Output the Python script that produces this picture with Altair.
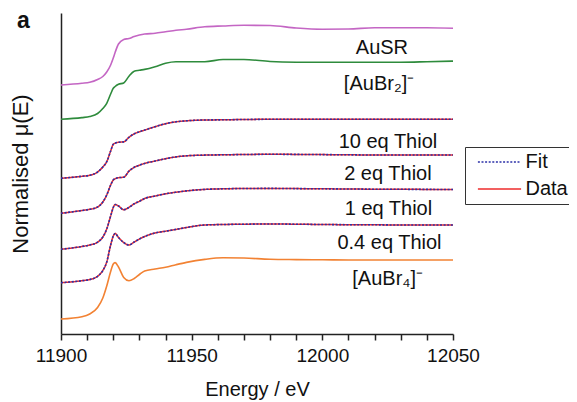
import altair as alt
import pandas as pd

energy = [11900, 11908, 11911, 11914, 11916, 11917.5, 11919, 11920, 11920.7, 11922,
          11924, 11926, 11928, 11930, 11932, 11936, 11940, 11944, 11948, 11955,
          11962, 11970, 11980, 11990, 12000, 12010, 12020, 12030, 12040, 12050]

# stacked (offset) normalised absorption, arbitrary offset units
ausr = [249, 250.7, 251.7, 254.5, 257.5, 262, 269, 276, 281.5, 290,
        294.5, 295.5, 297.5, 299, 300, 300.7, 302.2, 303.7, 304.8, 307.2,
        308, 308.7, 308.5, 306, 304.8, 305, 306.3, 306.3, 306.3, 305.8]
aubr2 = [214.7, 216.4, 217.5, 220.5, 225.5, 230.7, 240, 245.7, 247.5, 249.7,
         251, 257.8, 262.8, 263.8, 264.6, 267.3, 270.8, 272.3, 272.3, 272.3,
         274.5, 274.5, 272.5, 271.8, 271.7, 271.7, 271.7, 271.8, 272.3, 272.9]
eq10 = [155.7, 157.7, 158.7, 162, 167, 172.3, 183, 189.7, 190.8, 191.7,
        192.1, 196.7, 200.2, 202.2, 203.9, 207.3, 210.3, 212.2, 213.2, 214,
        214.2, 214.5, 214.7, 214.7, 214.7, 214.8, 214.8, 214.8, 214.7, 214.7]
eq2 = [120.7, 123.5, 124.7, 127, 132, 139, 149, 154, 155.2, 156.3,
       156.8, 162.8, 166.7, 168.8, 170.6, 173, 175.3, 177.1, 178.2, 178.9,
       179.2, 179.5, 179.7, 179.6, 179.4, 179.2, 179, 179, 179, 179]
eq1 = [84.7, 87.5, 89, 91.8, 97, 105, 118, 126.5, 129.5, 128, 124.3, 126.6,
       130.2, 132.7, 135.5, 138, 140.2, 141.8, 143.1, 144.6,
       145.2, 145.5, 145.6, 145.4, 145.2, 145, 144.8, 144.7, 144.6, 144.5]
eq04 = [51.3, 53.3, 54.5, 57.7, 63.5, 72, 89, 98, 100.5, 96.5,
        91.5, 89, 92, 95, 97.5, 101, 102.8, 104.6, 106.5, 109,
        109.5, 109.8, 110, 109.8, 109.5, 109.3, 109.2, 109, 109, 109]
aubr4 = [15, 17.3, 20, 26.5, 36, 48, 62.5, 70, 71.4, 67,
         56.5, 53.3, 55.5, 59.5, 63, 65, 66.8, 69.3, 71.6, 74.6,
         76.2, 76, 74.7, 74.4, 74.2, 74, 74, 74, 74, 74]

ref_names = ["AuSR", "AuBr2", "AuBr4"]
ref_values = [ausr, aubr2, aubr4]
ref_colors = ["#C466C4", "#2E8B3C", "#F28233"]

thiol_names = ["10 eq", "2 eq", "1 eq", "0.4 eq"]
thiol_values = [eq10, eq2, eq1, eq04]

labels = ["AuSR", "[AuBr\u2082]\u207b", "10 eq Thiol", "2 eq Thiol",
          "1 eq Thiol", "0.4 eq Thiol", "[AuBr\u2084]\u207b"]
label_e = [12022.8, 12021.7, 12025.1, 12025.1, 12025.3, 12025.7, 12025]
label_y = [285.7, 250, 192.5, 160, 125, 91, 55]

FONT = "Liberation Sans"

rows = []
for n, vals in zip(ref_names, ref_values):
    for e, v in zip(energy, vals):
        rows.append({"E": e, "mu": v, "series": n})
ref_df = pd.DataFrame(rows)

rows = []
for kind in ["Data", "Fit"]:
    for n, vals in zip(thiol_names, thiol_values):
        for e, v in zip(energy, vals):
            rows.append({"E": e, "mu": v, "series": n, "kind": kind})
thiol_df = pd.DataFrame(rows)

lab_df = pd.DataFrame({"E": label_e, "mu": label_y, "text": labels})

xscale = alt.Scale(domain=[11900, 12050], nice=False, zero=False)
yscale = alt.Scale(domain=[0, 321], nice=False, zero=False)

xaxis = alt.Axis(values=list(range(11900, 12051, 10)), format="d",
                 labelExpr="datum.value % 50 == 0 ? datum.label : ''",
                 title="Energy / eV", grid=False, tickSize=6, tickWidth=1.5,
                 tickColor="#222", domainColor="#222", domainWidth=1.5,
                 labelFontSize=19, labelFont=FONT, labelColor="#111",
                 labelPadding=6, labelFlush=False, labelOverlap=False,
                 titleFontSize=20, titleFont=FONT, titleFontWeight="normal",
                 titleColor="#111", titlePadding=14)
yaxis = alt.Axis(labels=False, ticks=False, grid=False, title="Normalised \u03bc(E)",
                 domainColor="#222", domainWidth=1.5, titleFontSize=22,
                 titleFont=FONT, titleFontWeight="normal", titleColor="#111",
                 titlePadding=29)

X = alt.X("E:Q", scale=xscale, axis=xaxis)
Y = alt.Y("mu:Q", scale=yscale, axis=yaxis)

layers = []
for n, c in zip(ref_names, ref_colors):
    layers.append(
        alt.Chart(ref_df).transform_filter(alt.datum.series == n)
        .mark_line(interpolate="monotone", strokeWidth=1.6)
        .encode(x=X, y=Y, color=alt.value(c))
    )

legend_kw = dict(title=None, orient="none", legendX=404, legendY=134,
                 strokeColor="#333", padding=5, labelFontSize=20,
                 labelFont=FONT, labelColor="#111",
                 symbolType="M-4.8,0L4.8,0", symbolSize=81,
                 symbolStrokeWidth=1.6, symbolOffset=19.5,
                 labelOffset=16, rowPadding=7, fillColor="white")

kind_color = alt.Color("kind:N", scale=alt.Scale(domain=["Fit", "Data"], range=["#2B30A8", "#EE2B2B"]),
                       legend=alt.Legend(**legend_kw))
kind_dash = alt.StrokeDash("kind:N", scale=alt.Scale(domain=["Fit", "Data"], range=[[2, 1.6], [1, 0]]),
                           legend=alt.Legend(**legend_kw))

for kind, w in [("Data", 1.5), ("Fit", 1.6)]:
    layers.append(
        alt.Chart(thiol_df).transform_filter(alt.datum.kind == kind)
        .mark_line(interpolate="monotone", strokeWidth=w)
        .encode(x=X, y=Y, color=kind_color, strokeDash=kind_dash, detail="series:N")
    )

layers.append(
    alt.Chart(lab_df).mark_text(fontSize=20, font=FONT, color="#111", align="center", baseline="middle")
    .encode(x=X, y=Y, text="text:N")
)

chart = alt.layer(*layers).properties(
    width=392, height=321,
    autosize=alt.AutoSizeParams(type="none"),
    padding={"left": 53, "top": 5, "right": 116, "bottom": 72},
    title=alt.TitleParams("a", anchor="start", frame="group", orient="top", dx=-44, dy=38,
                          offset=0, baseline="alphabetic", fontSize=23, font=FONT,
                          fontWeight="bold", color="#111"),
).configure_view(stroke=None)

chart.save("out.html", embed_options={"renderer": "svg", "actions": False})
